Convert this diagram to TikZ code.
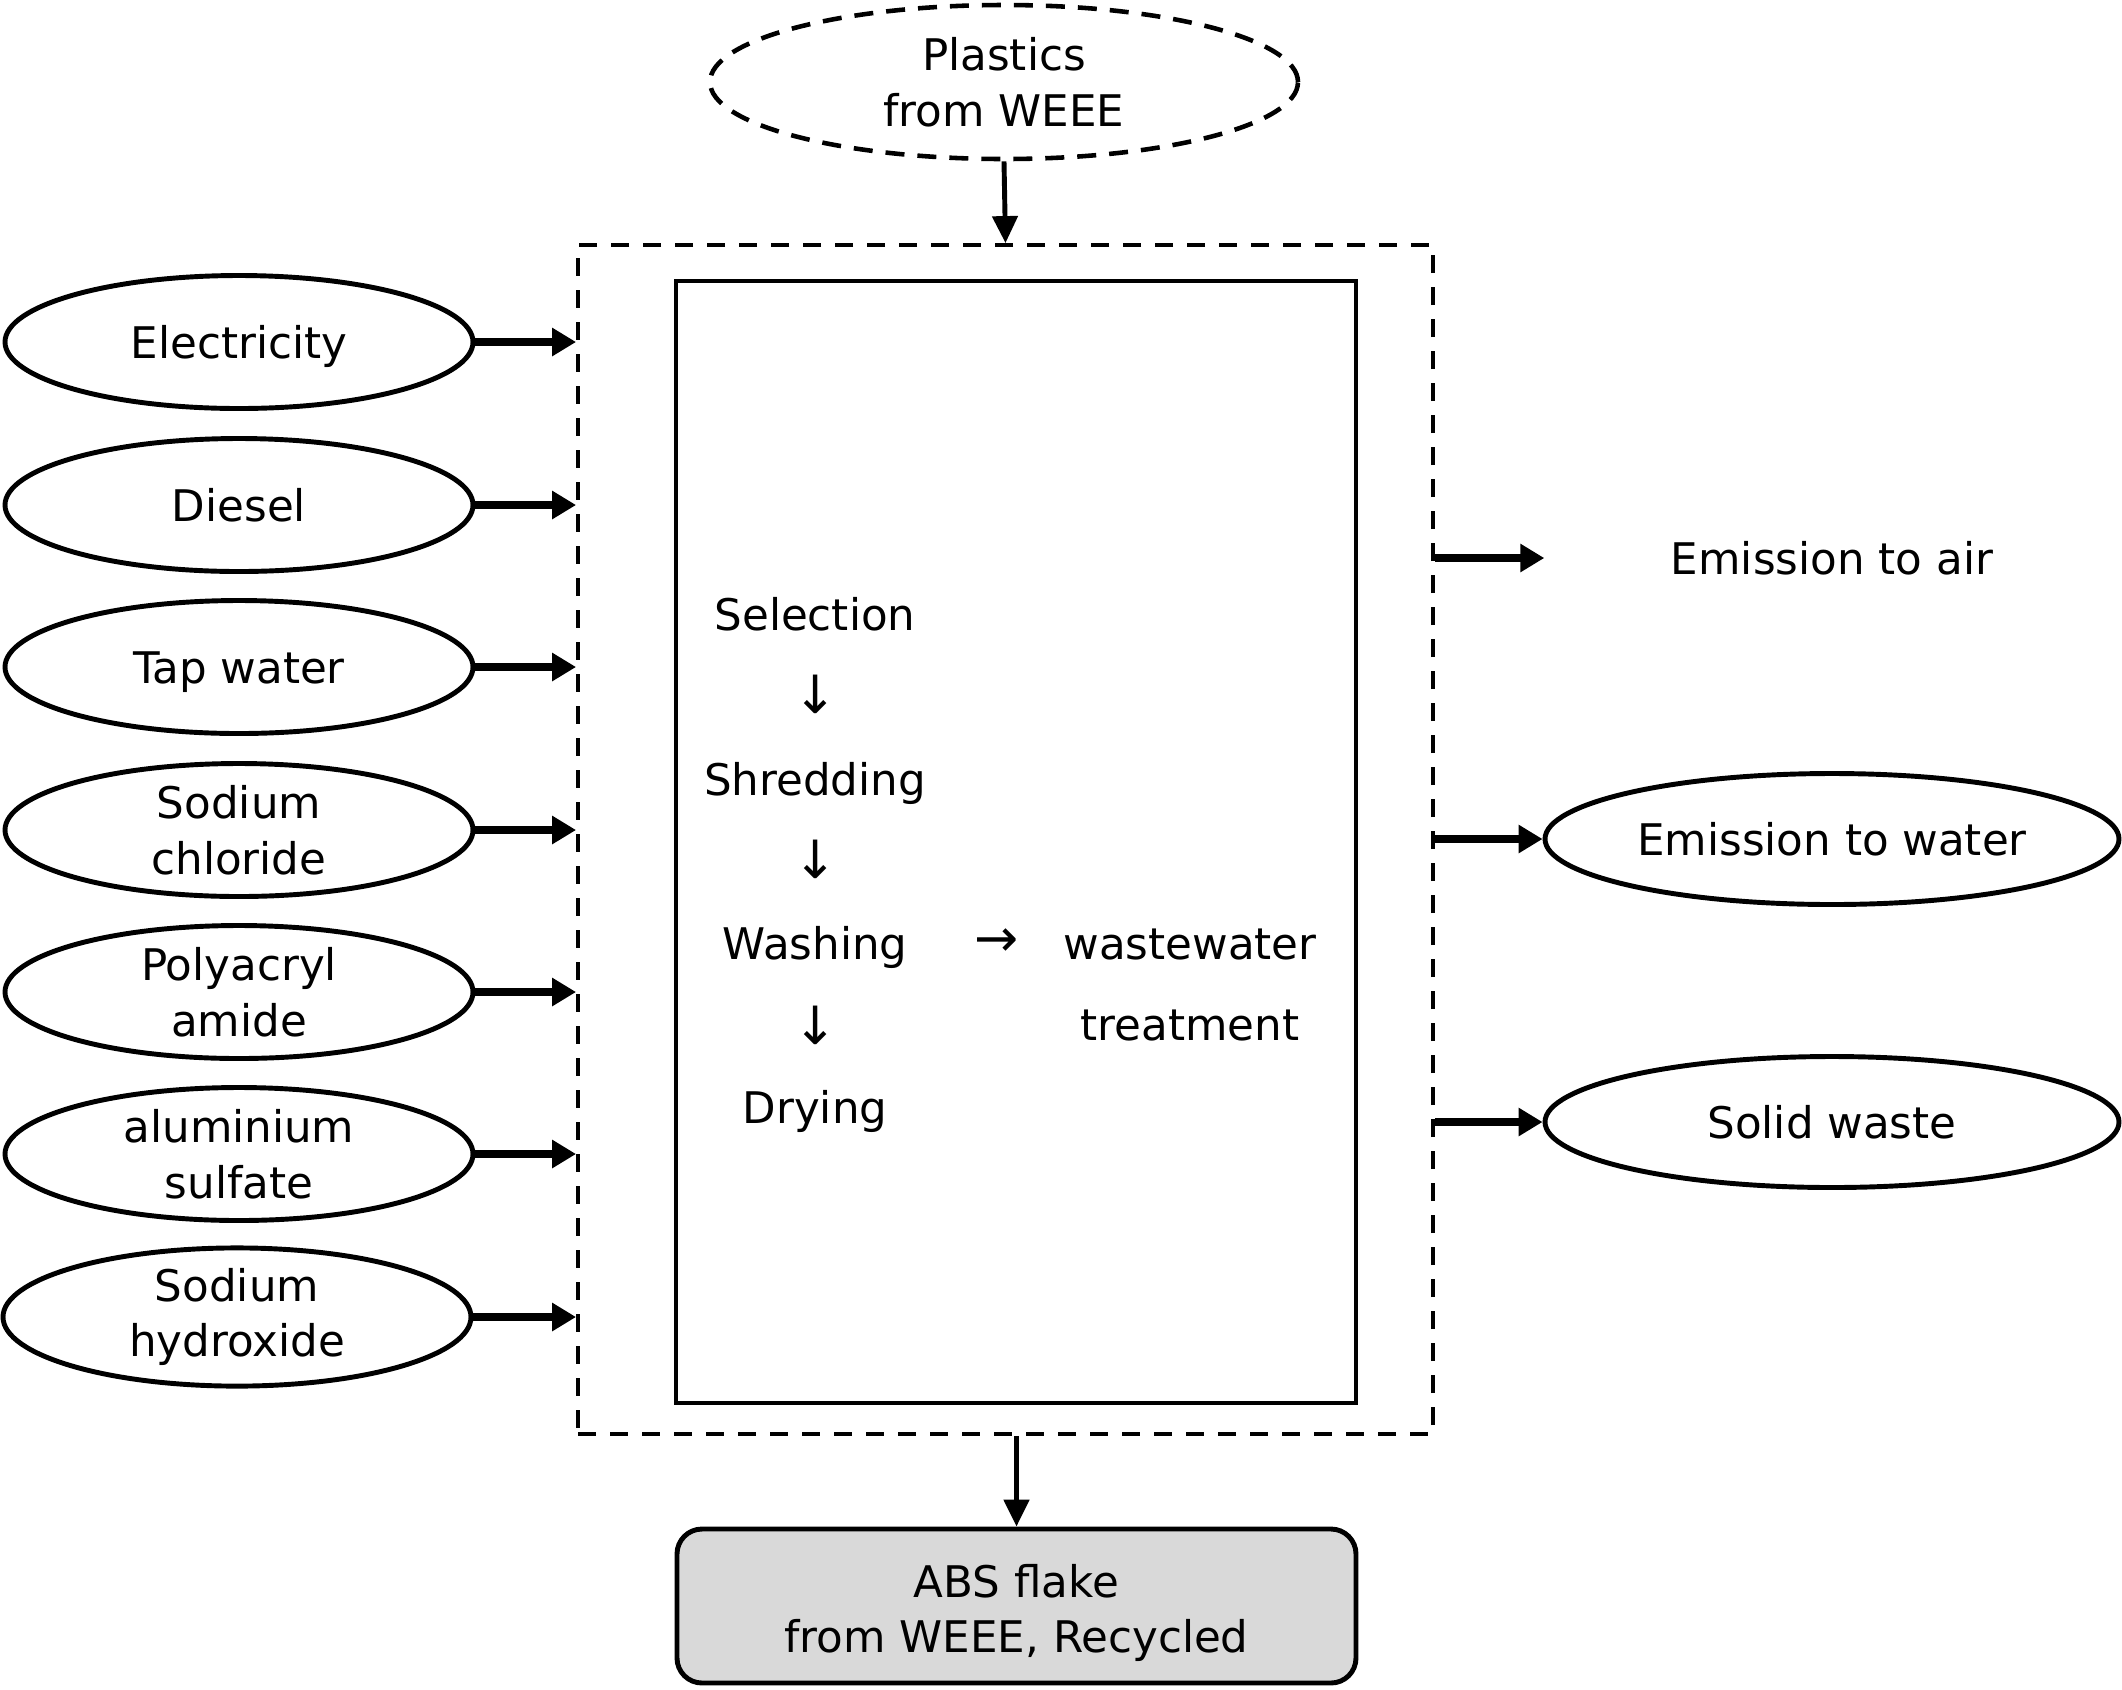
\documentclass[tikz,border=0pt]{standalone}
\usepackage{fontspec}
\setmainfont{DejaVu Sans}
\usetikzlibrary{shapes.geometric,arrows.meta}
\definecolor{absgray}{RGB}{217,217,217}
\begin{document}
\begin{tikzpicture}[x=0.1mm,y=-0.1mm,
 every node/.style={font=\fontsize{12.4pt}{15.8pt}\selectfont, align=center, inner sep=0pt},
 onel/.style={text height=9.6pt, text depth=0pt},
 glyph/.style={font=\fontsize{15pt}{18pt}\selectfont},
 inell/.style={ellipse, draw, line width=1.4pt, minimum width=46.8mm, minimum height=13.3mm},
 outell/.style={ellipse, draw, line width=1.4pt, minimum width=57.4mm, minimum height=13.1mm},
 harr/.style={line width=2.3pt, -{Triangle[length=2.4mm,width=2.7mm]}},
 varr/.style={line width=1.4pt, -{Triangle[length=2.7mm,width=2.5mm]}},
 sysbox/.style={draw, line width=1.1pt, dash pattern=on 1.8mm off 1.4mm},
]
\useasboundingbox (0,0) rectangle (2122,1689);

% source
\node[ellipse, draw, line width=1.3pt, dash pattern=on 1.9mm off 1.3mm,
      minimum width=58.8mm, minimum height=15.4mm] (plast) at (1004,82) {Plastics\\from WEEE};

% system boundary and process box
\node[sysbox, minimum width=85.5mm, minimum height=118.9mm] (sys) at (1005.5,839.5) {};
\node[draw, line width=1.4pt, minimum width=68mm, minimum height=112.2mm] (proc) at (1016,842) {};

% product
\node[draw, fill=absgray, rounded corners=2.5mm, line width=1.4pt,
      minimum width=67.9mm, minimum height=15.4mm] (abs) at (1016.5,1606) {\rule{0pt}{13.4pt}ABS flake\\from WEEE, Recycled};

% inputs
\node[inell, onel] (e1) at (239,342) {Electricity};
\node[inell, onel] (e2) at (239,505) {Diesel};
\node[inell, onel] (e3) at (239,667) {Tap water};
\node[inell] (e4) at (239,830) {Sodium\\chloride};
\node[inell] (e5) at (239,992) {Polyacryl\\amide};
\node[inell] (e6) at (239,1154) {aluminium\\sulfate};
\node[inell] (e7) at (237,1317) {Sodium\\hydroxide};

% outputs
\node[minimum width=57.4mm, onel] (air) at (1832,558) {Emission to air};
\node[outell, onel] (water) at (1832,839) {Emission to water};
\node[outell, onel] (solid) at (1832,1122) {Solid waste};

% process steps
\node[anchor=base] (sel) at (815,630) {Selection};
\node[glyph] (a1) at (816,694) {↓};
\node[anchor=base] (shr) at (815,795) {Shredding};
\node[glyph] (a2) at (816,859) {↓};
\node[anchor=base] (was) at (815,959) {Washing};
\node[glyph] (a3) at (816,1025) {↓};
\node[anchor=base] (dry) at (815,1123) {Drying};
\node[glyph] (a4) at (997,943) {→};
\node[anchor=base] (ww) at (1190,959) {wastewater};
\node[anchor=base] (tr) at (1190,1040) {treatment};

% connectors
\draw[varr] (plast.south) -- (sys.north);
\draw[varr] (abs.north |- sys.south) -- (abs.north);
\foreach \n in {e1,e2,e3,e4,e5,e6,e7}
  \draw[harr] (\n.east) -- (\n.east -| sys.west);
\draw[harr] (sys.east |- air.west) -- (air.west);
\draw[harr] (sys.east |- water.west) -- (water.west);
\draw[harr] (sys.east |- solid.west) -- (solid.west);
\end{tikzpicture}
\end{document}
